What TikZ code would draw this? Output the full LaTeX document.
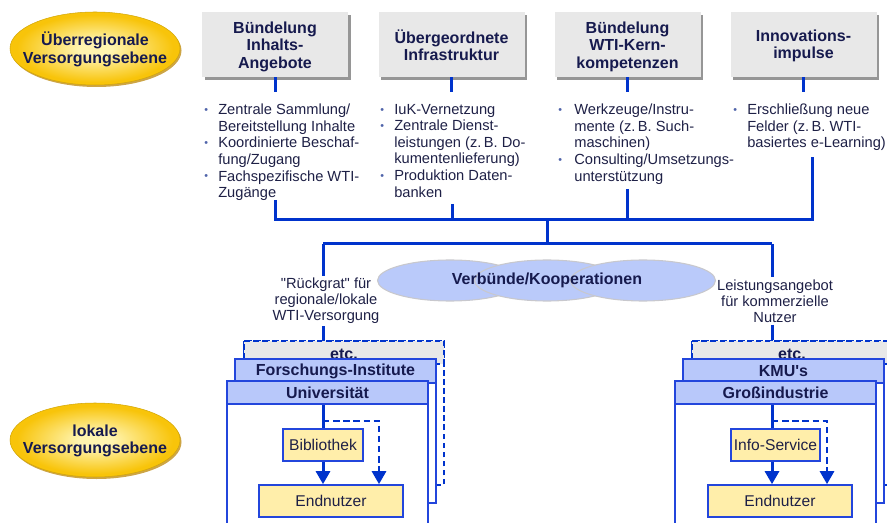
\documentclass[tikz,border=0pt]{standalone}
\usepackage{fontspec}
\setmainfont{Liberation Sans}
\usetikzlibrary{shapes.geometric,arrows.meta,shadows}
\definecolor{linec}{RGB}{0,51,204}
\definecolor{boxline}{RGB}{35,70,220}
\definecolor{headblue}{RGB}{184,200,250}
\definecolor{boxgray}{RGB}{232,232,232}
\definecolor{shadowgray}{RGB}{150,150,150}
\definecolor{ylw}{RGB}{255,238,170}
\definecolor{navy}{RGB}{22,26,78}
\definecolor{txt}{RGB}{30,32,70}
\definecolor{bulc}{RGB}{80,100,170}
\definecolor{cloudc}{RGB}{186,202,250}
\definecolor{cloudline}{RGB}{200,200,205}
\definecolor{goldlight}{RGB}{255,244,175}
\definecolor{goldmain}{RGB}{248,196,10}
\definecolor{goldshadow}{RGB}{205,165,70}
\pgfdeclareradialshading{goldrad}{\pgfpoint{0bp}{0bp}}{color(0bp)=(goldlight); color(5bp)=(goldlight); color(23bp)=(goldmain); color(50bp)=(goldmain)}
\newcommand\pxu{0.75pt}
\newcommand\lbul[1][10.5pt]{\makebox[#1][l]{\raisebox{1pt}{\textcolor{bulc}{\fontsize{8}{8}\selectfont\textbullet}}}}
\newcommand\lind[1][10.5pt]{\hspace*{#1}}
\begin{document}
\begin{tikzpicture}[x=0.75pt,y=-0.75pt,
  topbox/.style={fill=boxgray, drop shadow={shadow xshift=2.2pt,shadow yshift=-2.2pt,fill=shadowgray,opacity=1},
    minimum width=146*\pxu, minimum height=65*\pxu, inner sep=0pt},
  toptext/.style={inner sep=0pt, align=center,
    font=\fontsize{12}{13}\selectfont\bfseries, text=navy},
  goldtext/.style={inner sep=0pt, align=center,
    font=\fontsize{12}{13}\selectfont\bfseries, text=navy},
  goldfill/.style={shading=goldrad, draw=goldmain!85!black, line width=0.4pt},
  blist/.style={anchor=north west, inner sep=0pt, align=left, text=txt,
    font=\fontsize{11}{12.4}\selectfont},
  lbl/.style={inner xsep=0pt, inner ysep=1.5pt, align=center, text=txt,
    font=\fontsize{11}{12}\selectfont},
  conn/.style={draw=linec, line width=2.25pt},
  dconn/.style={draw=linec, line width=2.2pt, dash pattern=on 4.8pt off 2.8pt},
  tip/.style={-{Triangle[width=10.5pt,length=9.8pt]}},
  cloud/.style={ellipse, fill=cloudc, draw=cloudline, line width=0.8pt,
    minimum width=145*\pxu, minimum height=41*\pxu, inner sep=0pt},
  etcbody/.style={draw=linec, line width=1.5pt, dash pattern=on 4.2pt off 2.6pt, fill=white},
  etchead/.style={draw=linec, line width=1.5pt, dash pattern=on 4.2pt off 2.6pt, fill=boxgray,
    minimum width=200*\pxu, minimum height=23*\pxu, inner sep=0pt},
  etctext/.style={anchor=base, inner sep=0pt, font=\fontsize{12}{13}\selectfont\bfseries, text=navy},
  bodybox/.style={draw=boxline, line width=1.2pt, fill=white},
  headbox/.style={draw=boxline, line width=1.2pt, fill=headblue,
    minimum width=201*\pxu, minimum height=23.5*\pxu, inner sep=0pt,
    font=\fontsize{12}{13}\selectfont\bfseries, text=navy},
  ybox/.style={draw=boxline, line width=1.2pt, fill=ylw, inner sep=0pt,
    minimum height=32*\pxu, font=\fontsize{11.7}{13}\selectfont, text=txt}
]
\useasboundingbox (0,0) rectangle (887,523);
\clip (0,0) rectangle (887,523);

% level ellipses
\fill[goldshadow] (96.5,50.5) ellipse [x radius=85, y radius=36.5];
\path[goldfill] (95,48.5) ellipse [x radius=85, y radius=36.5];
\node[goldtext] (ueber) at (95,49.5) {Überregionale\\Versorgungsebene};
\fill[goldshadow] (96.5,442) ellipse [x radius=85, y radius=37];
\path[goldfill] (95,440) ellipse [x radius=85, y radius=37];
\node[goldtext] (lokal) at (95,441) {lokale\\Versorgungsebene};

% top boxes
\node[topbox] (b1) at (275,44.5) {};
\node[topbox] (b2) at (451.5,44.5) {};
\node[topbox] (b3) at (627.5,44.5) {};
\node[topbox] (b4) at (803.5,44.5) {};
\node[toptext] (t1) at (275,46.8) {Bündelung\\Inhalts-\\Angebote};
\node[toptext] (t2) at (451.5,45.5) {Übergeordnete\\Infrastruktur};
\node[toptext] (t3) at (627.5,46.8) {Bündelung\\WTI-Kern-\\kompetenzen};
\node[toptext] (t4) at (803.5,46) {Innovations-\\impulse};
\foreach \b in {b1,b2,b3,b4}{\draw[conn] (\b.south) -- ++(0,15);}

% bullet lists
\node[blist] (l1) at (204,104) {\lbul Zentrale Sammlung/\\\lind Bereitstellung Inhalte\\\lbul Koordinierte Beschaf-\\\lind fung/Zugang\\\lbul Fachspezifische WTI-\\\lind Zugänge};
\node[blist] (l2) at (380,104) {\lbul IuK-Vernetzung\\\lbul Zentrale Dienst-\\\lind leistungen (z.\,B. Do-\\\lind kumentenlieferung)\\\lbul Produktion Daten-\\\lind banken};
\node[blist] (l3) at (558,104) {\lbul[9pt] Werkzeuge/Instru-\\\lind[9pt] mente (z.\,B. Such-\\\lind[9pt] maschinen)\\\lbul[9pt] Consulting/Umsetzungs-\\\lind[9pt] unterstützung};
\node[blist] (l4) at (733,104) {\lbul Erschließung neue\\\lind Felder (z.\,B. WTI-\\\lind basiertes e-Learning)};

% bus
\coordinate (s1) at (275,200);
\coordinate (s2) at (452,204);
\coordinate (s3) at (627,189);
\coordinate (s4) at (812,157);
\coordinate (bus) at (547,220);
\coordinate (hub) at (547,244);
\coordinate (dropL) at (323,244);
\coordinate (dropR) at (772,244);
\draw[conn] (s1) |- (bus -| s4) -- (s4);
\draw[conn] (s2) -- (s2 |- bus);
\draw[conn] (s3) -- (s3 |- bus);
\draw[conn] (bus) -- (hub);
\draw[conn] (dropL) -- (dropR);

% cloud
\node[cloud] (cl1) at (450,280.5) {};
\node[cloud] (cl2) at (547,280.5) {};
\node[cloud] (cl3) at (643,280.5) {};
\node[font=\fontsize{12}{13}\selectfont\bfseries, text=navy] (verb) at (547,280) {Verbünde/Kooperationen};

% labels
\node[lbl] (lblL) at (326,301) {\textquotedbl Rückgrat\textquotedbl{} für\\regionale/lokale\\WTI-Versorgung};
\node[lbl] (lblR) at (775,301) {Leistungsangebot\\für kommerzielle\\Nutzer};

% ---- left stack ----
\draw[etcbody] (244,341) rectangle (444,485);
\node[etchead] (etcL) at (344,352.5) {};
\node[etctext] (etcLt) at (344,359.5) {etc.};
\draw[bodybox] (235,359) rectangle (436,503);
\node[headbox] (fiL) at (335.5,371) {Forschungs-Institute};
\draw[bodybox] (227,381) rectangle (428,545);
\node[headbox] (uniL) at (327.5,392.5) {Universität};
\node[ybox, minimum width=80*\pxu] (bib) at (323,445) {Bibliothek};
\node[ybox, minimum width=144*\pxu] (endL) at (331,501) {Endnutzer};
\coordinate (jL) at (323,421);
\coordinate (dL) at (379,421);
\draw[conn] (dropL) -- (dropL |- lblL.north);
\draw[conn] (dropL |- lblL.south) -- (dropL |- etcL.north);
\draw[conn] (jL |- uniL.south) -- (bib.north -| jL);
\draw[conn,tip] (bib.south -| jL) -- (endL.north -| jL);
\draw[dconn,tip] (jL) -- (dL) -- (dL |- endL.north);

% ---- right stack ----
\draw[etcbody] (692,341) rectangle (892,485);
\node[etchead] (etcR) at (792,352.5) {};
\node[etctext] (etcRt) at (792,359.5) {etc.};
\draw[bodybox] (683,359) rectangle (884,503);
\node[headbox] (kmu) at (783.5,371) {KMU\textquotesingle s};
\draw[bodybox] (675,381) rectangle (876,545);
\node[headbox] (gross) at (775.5,392.5) {Großindustrie};
\node[ybox, minimum width=89*\pxu] (info) at (775.5,445) {Info-Service};
\node[ybox, minimum width=144*\pxu] (endR) at (780,501) {Endnutzer};
\coordinate (jR) at (772,421);
\coordinate (dR) at (827,421);
\draw[conn] (dropR) -- (dropR |- lblR.north);
\draw[conn] (dropR |- lblR.south) -- (dropR |- etcR.north);
\draw[conn] (jR |- gross.south) -- (info.north -| jR);
\draw[conn,tip] (info.south -| jR) -- (endR.north -| jR);
\draw[dconn,tip] (jR) -- (dR) -- (dR |- endR.north);
\end{tikzpicture}
\end{document}
